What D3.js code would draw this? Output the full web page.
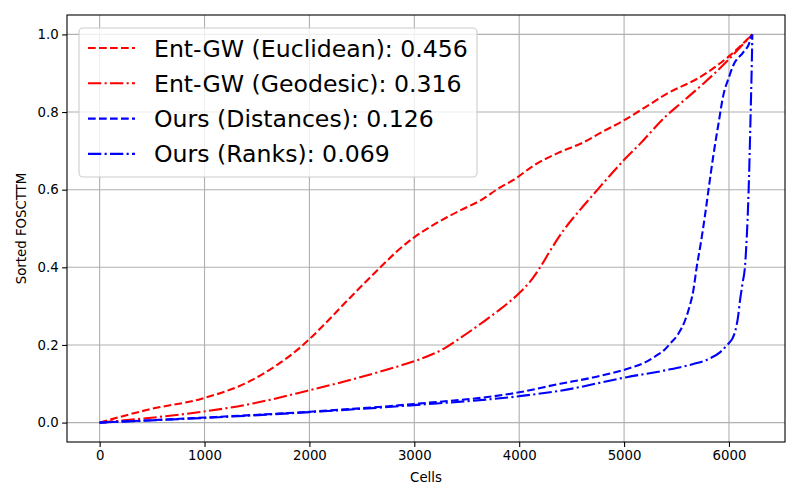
<!DOCTYPE html>
<html><head><meta charset="utf-8">
<script src="https://cdn.jsdelivr.net/npm/d3@7"></script>
<style>body{margin:0;background:#fff}svg{display:block}text{font-family:"DejaVu Sans",sans-serif}</style>
</head><body><svg id="c" width="800" height="500"></svg>
<script>
const xTicks=[0,1000,2000,3000,4000,5000,6000];
const yTicks=[0.0,0.2,0.4,0.6,0.8,1.0];
const nCells=6223;
const seriesNames=["Ent-GW (Euclidean): 0.456","Ent-GW (Geodesic): 0.316","Ours (Distances): 0.126","Ours (Ranks): 0.069"];
const eucX=[0,489,965,1441,1700,1914,2150,2359,2520,2676,2830,2993,3150,3311,3470,3629,3819,3946,4136,4390,4613,4800,4994,5200,5406,5724,6010,6223];
const eucY=[0,0.035,0.061,0.108,0.150,0.194,0.255,0.314,0.358,0.400,0.440,0.476,0.504,0.529,0.551,0.572,0.606,0.625,0.662,0.697,0.722,0.750,0.778,0.812,0.847,0.890,0.946,1.0];
const geoX=[0,400,806,1438,1981,2500,2870,3050,3279,3450,3629,3800,3994,4100,4200,4300,4422,4580,4740,4870,4994,5152,5390,5533,5755,5978,6100,6223];
const geoY=[0,0.010,0.022,0.048,0.082,0.118,0.147,0.163,0.190,0.220,0.254,0.288,0.332,0.362,0.400,0.445,0.495,0.548,0.598,0.638,0.675,0.718,0.787,0.821,0.873,0.930,0.965,1.0];
const disX=[0,1000,2000,3000,4000,4390,4700,5025,5200,5310,5380,5438,5520,5581,5620,5660,5692,5730,5771,5810,5851,5900,5946,6000,6041,6136,6190,6216,6223];
const disY=[0,0.013,0.028,0.048,0.078,0.100,0.116,0.138,0.155,0.173,0.186,0.203,0.230,0.263,0.295,0.340,0.400,0.460,0.533,0.610,0.688,0.770,0.843,0.890,0.920,0.954,0.975,0.997,1.0];
const rnkX=[0,1000,2000,3000,4000,4390,5025,5400,5660,5800,5914,5994,6030,6057,6085,6105,6130,6152,6170,6184,6196,6206,6218,6223];
const rnkY=[0,0.012,0.027,0.045,0.068,0.082,0.117,0.135,0.151,0.163,0.181,0.203,0.215,0.233,0.270,0.314,0.360,0.400,0.480,0.570,0.680,0.790,0.930,1.0];

const svg=d3.select("#c");
const L=67,R=785,T=15,B=442;
const x=d3.scaleLinear().domain([-0.05*nCells,1.05*nCells]).range([L,R]);
const y=d3.scaleLinear().domain([-0.05,1.05]).range([B,T]);
const g=svg.append("g");
g.selectAll(".gx").data(xTicks).enter().append("line").attr("x1",d=>x(d)).attr("x2",d=>x(d)).attr("y1",T).attr("y2",B).attr("stroke","#b0b0b0").attr("stroke-width",1.1);
g.selectAll(".gy").data(yTicks).enter().append("line").attr("y1",d=>y(d)).attr("y2",d=>y(d)).attr("x1",L).attr("x2",R).attr("stroke","#b0b0b0").attr("stroke-width",1.1);
const dashed="7.7,3.3", dashdot="13.3,3.3,2.1,3.3";
const series=[
 {xs:eucX,ys:eucY,c:"#ff0000",d:dashed},
 {xs:geoX,ys:geoY,c:"#ff0000",d:dashdot},
 {xs:disX,ys:disY,c:"#0000ff",d:dashed},
 {xs:rnkX,ys:rnkY,c:"#0000ff",d:dashdot}];
const line=d3.line().x(d=>x(d[0])).y(d=>y(d[1])).curve(d3.curveMonotoneX);
const plot=svg.append("g");
plot.append("clipPath").attr("id","clip").append("rect").attr("x",L).attr("y",T).attr("width",R-L).attr("height",B-T);
series.forEach(s=>{
  const pts=s.xs.map((v,i)=>[v,s.ys[i]]);
  plot.append("path").attr("d",line(pts)).attr("fill","none").attr("stroke",s.c).attr("stroke-width",2.1).attr("stroke-dasharray",s.d).attr("clip-path","url(#clip)");
});
const xa=svg.append("g").attr("transform",`translate(0,${B})`).call(d3.axisBottom(x).tickValues(xTicks).tickFormat(d3.format("d")).tickSize(4.9).tickPadding(3.5));
const ya=svg.append("g").attr("transform",`translate(${L},0)`).call(d3.axisLeft(y).tickValues(yTicks).tickFormat(d3.format(".1f")).tickSize(4.9).tickPadding(3.5));
[xa,ya].forEach(a=>{a.select(".domain").remove();a.selectAll("text").attr("font-size",13.3).attr("fill","#000").attr("font-family","DejaVu Sans");a.selectAll("line").attr("stroke","#000").attr("stroke-width",1.1);});
svg.append("rect").attr("x",L).attr("y",T).attr("width",R-L).attr("height",B-T).attr("fill","none").attr("stroke","#000").attr("stroke-width",1.1);
svg.append("text").attr("x",(L+R)/2).attr("y",482).attr("text-anchor","middle").attr("font-size",13.3).text("Cells");
svg.append("text").attr("transform",`translate(26,${(T+B)/2}) rotate(-90)`).attr("text-anchor","middle").attr("font-size",13.3).text("Sorted FOSCTTM");
const lg=svg.append("g");
lg.append("rect").attr("x",79).attr("y",28).attr("width",398).attr("height",149).attr("rx",4).attr("fill","#fff").attr("fill-opacity",0.8).attr("stroke","#cccccc").attr("stroke-width",1.1);
series.forEach((s,i)=>{
  const yy=48+i*35.3;
  lg.append("line").attr("x1",88).attr("x2",135).attr("y1",yy).attr("y2",yy).attr("stroke",s.c).attr("stroke-width",2.1).attr("stroke-dasharray",s.d);
  lg.append("text").attr("x",154).attr("y",yy+8.5).attr("font-size",23.6).text(seriesNames[i]);
});
</script></body></html>
